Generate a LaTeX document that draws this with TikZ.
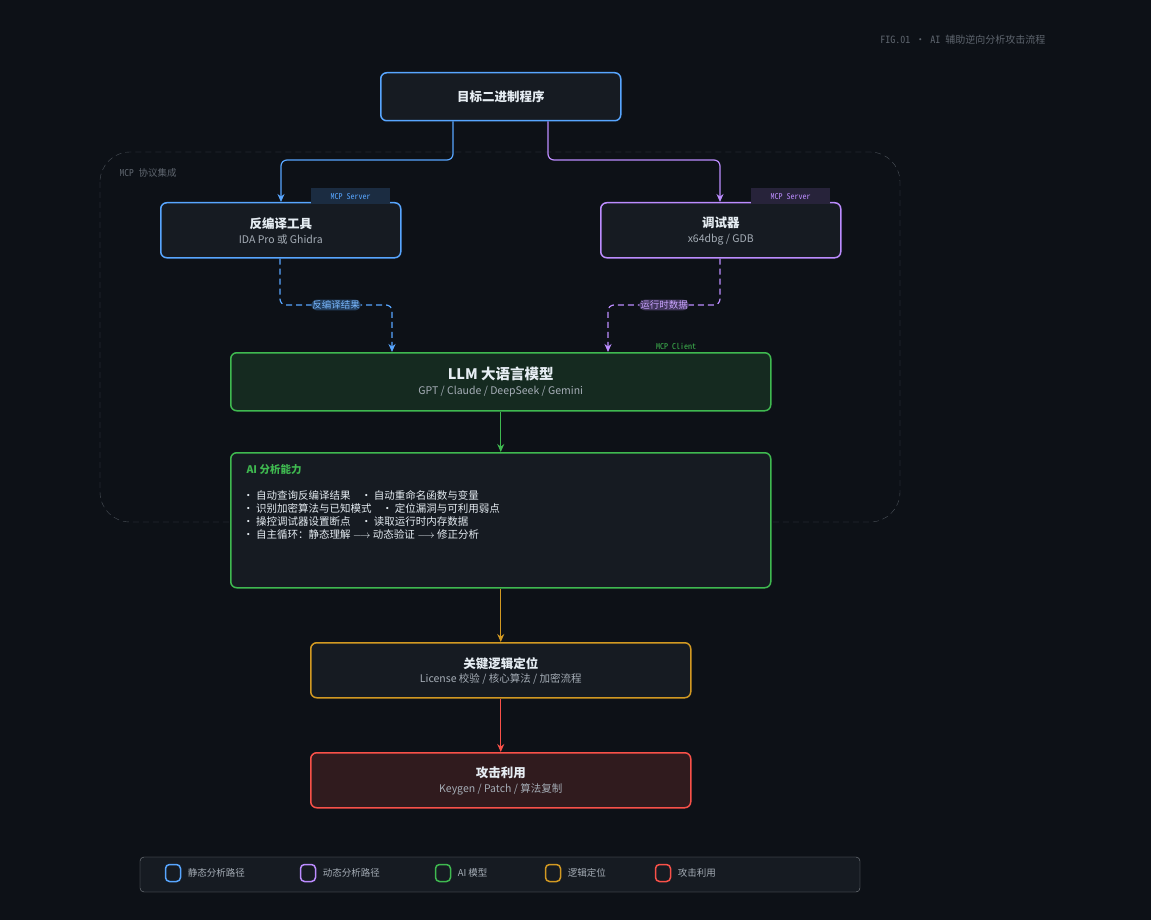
\documentclass[tikz,border=0pt]{standalone}
\usepackage{fontspec}
\setmainfont{Noto Sans CJK SC}
\newfontfamily\monocjk{Noto Sans Mono CJK SC}
\usetikzlibrary{arrows.meta}
\definecolor{bgc}{HTML}{0D1117}
\definecolor{boxc}{HTML}{161B22}
\definecolor{bluec}{HTML}{58A6FF}
\definecolor{purc}{HTML}{BC8CFF}
\definecolor{grnc}{HTML}{3FB950}
\definecolor{orgc}{HTML}{D29922}
\definecolor{redc}{HTML}{F85149}
\definecolor{txtc}{HTML}{E6EDF3}
\definecolor{subc}{HTML}{A5ADB6}
\definecolor{dimc}{HTML}{4A5058}
\definecolor{captc}{HTML}{5E656E}
\tikzset{
  box/.style={draw, line width=1.5pt, rounded corners=6pt, fill=boxc, anchor=north west, inner sep=0pt},
  title/.style={text=txtc, font=\bfseries\fontsize{12.5}{14}\selectfont},
  sub/.style={text=subc, font=\fontsize{10.5}{12}\selectfont},
  tag/.style={font=\monocjk\fontsize{8}{9}\selectfont, inner sep=0pt, anchor=north west},
  flow/.style={line width=1.2pt, rounded corners=6pt, -{Stealth[length=8pt,width=7pt]}},
  dflow/.style={flow, dash pattern=on 6pt off 4pt},
  leg/.style={draw, line width=1.5pt, rounded corners=4pt, minimum width=15pt, minimum height=17pt, inner sep=0pt},
  legtxt/.style={text=subc, font=\fontsize{9.5}{11}\selectfont, anchor=west}
}
\begin{document}
\begin{tikzpicture}[x=1pt,y=-1pt]
\fill[bgc] (0,0) rectangle (1151,920);
\useasboundingbox (0,0) rectangle (1151,920);
\node[text=captc, font=\monocjk\fontsize{10}{12}\selectfont, anchor=east] (fig) at (1049,40) {FIG.01 · AI 辅助逆向分析攻击流程};

% MCP region
\draw[dimc, dash pattern=on 6pt off 4pt, rounded corners=30pt] (100,152) rectangle (900,522);
\node[text=captc, font=\monocjk\fontsize{9.5}{11}\selectfont, anchor=west] (mcp) at (116,173) {MCP 协议集成};

% nodes
\node[box, draw=bluec, minimum width=240pt, minimum height=48pt] (bin) at (380,72) {};
\node[title] at (bin.center) {目标二进制程序};

\node[box, draw=bluec, minimum width=240pt, minimum height=55pt] (dec) at (160,202) {};
\node[title] at ([yshift=7pt]dec.center) {反编译工具};
\node[sub] at ([yshift=-9pt]dec.center) {IDA Pro 或 Ghidra};
\node[tag, fill=bluec!18!bgc, text=bluec, minimum width=79pt, minimum height=16pt] (tagA) at (311,188) {\hfill MCP Server\hfill};

\node[box, draw=purc, minimum width=240pt, minimum height=55pt] (dbg) at (600,202) {};
\node[title] at ([yshift=7pt]dbg.center) {调试器};
\node[sub] at ([yshift=-9pt]dbg.center) {x64dbg / GDB};
\node[tag, fill=purc!15!bgc, text=purc, minimum width=79pt, minimum height=16pt] (tagB) at (751,188) {\hfill MCP Server\hfill};

\node[box, draw=grnc, fill=grnc!15!bgc, minimum width=540pt, minimum height=58pt] (llm) at (230,352) {};
\node[text=txtc, font=\bfseries\fontsize{14.5}{16}\selectfont] at ([yshift=8pt]llm.center) {LLM 大语言模型};
\node[sub] at ([yshift=-10pt]llm.center) {GPT / Claude / DeepSeek / Gemini};
\node[tag, text=grnc, anchor=west] (client) at (656,346) {MCP Client};

\node[box, draw=grnc, minimum width=540pt, minimum height=135pt] (ai) at (230,452) {};
\node[text=grnc, font=\bfseries\fontsize{10.5}{12}\selectfont, anchor=west] (aihead) at (243,470) {AI 分析能力};
\node[text=txtc, font=\fontsize{10.5}{13}\selectfont, anchor=north west, align=left, inner sep=0pt] (ailist) at (243,490)
  {• 自动查询反编译结果\quad • 自动重命名函数与变量\\
   • 识别加密算法与已知模式\quad • 定位漏洞与可利用弱点\\
   • 操控调试器设置断点\quad • 读取运行时内存数据\\
   • 自主循环：静态理解 $\longrightarrow$ 动态验证 $\longrightarrow$ 修正分析};

\node[box, draw=orgc, minimum width=380pt, minimum height=55pt] (key) at (310,642) {};
\node[title] at ([yshift=7pt]key.center) {关键逻辑定位};
\node[sub] at ([yshift=-9pt]key.center) {License 校验 / 核心算法 / 加密流程};

\node[box, draw=redc, fill=redc!15!bgc, minimum width=380pt, minimum height=55pt] (atk) at (310,752) {};
\node[title] at ([yshift=7pt]atk.center) {攻击利用};
\node[sub] at ([yshift=-9pt]atk.center) {Keygen / Patch / 算法复制};

% connectors
\draw[flow, bluec] (bin.south -| 453,0) |- (281,160) -- (dec.north -| 281,0);
\draw[flow, purc] (bin.south -| 548,0) |- (720,160) -- (dbg.north -| 720,0);
\draw[dflow, bluec] (dec.south -| 280,0) |- (392,305)
  node[pos=0.75, fill=bluec!30!bgc, text=bluec!80!white, font=\fontsize{9.5}{11}\selectfont, inner sep=1pt] {反编译结果}
  -- (llm.north -| 392,0);
\draw[dflow, purc] (dbg.south -| 720,0) |- (608,305)
  node[pos=0.75, fill=purc!30!bgc, text=purc!80!white, font=\fontsize{9.5}{11}\selectfont, inner sep=1pt] {运行时数据}
  -- (llm.north -| 608,0);
\draw[flow, grnc] (llm.south) -- (ai.north);
\draw[flow, orgc] (ai.south) -- (key.north);
\draw[flow, redc] (key.south) -- (atk.north);

% legend
\draw[dimc!70, fill=boxc, rounded corners=4pt] (140,857) rectangle (860,892);
\foreach \c/\x/\t in {bluec/173/静态分析路径, purc/308/动态分析路径, grnc/443/AI 模型, orgc/553/逻辑定位, redc/663/攻击利用}{
  \node[leg, draw=\c] (l\x) at (\x,873) {};
  \node[legtxt] at ([xshift=3pt]l\x.east) {\t};
}
\end{tikzpicture}
\end{document}
